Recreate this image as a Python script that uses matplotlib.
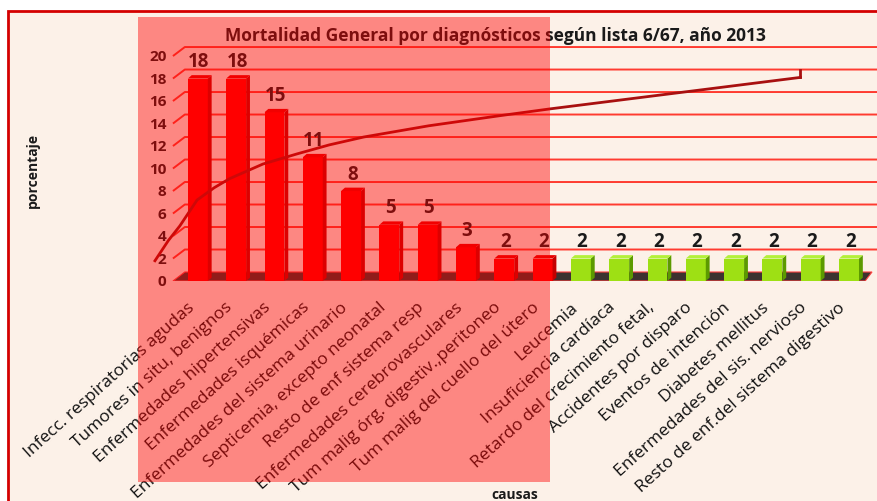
import numpy as np
import matplotlib.pyplot as plt
from matplotlib.patches import Polygon, Rectangle

plt.rcParams['font.family'] = ['Open Sans', 'DejaVu Sans']

# Causas de muerte y porcentaje de cada una
causas = [
    "Infecc. respiratorias agudas",
    "Tumores in situ, benignos",
    "Enfermedades hipertensivas",
    "Enfermedades isquémicas",
    "Enfermedades del sistema urinario",
    "Septicemia, excepto neonatal",
    "Resto de enf sistema resp",
    "Enfermedades cerebrovasculares",
    "Tum malig órg. digestiv.,peritoneo",
    "Tum malig del cuello del útero",
    "Leucemia",
    "Insuficiencia cardíaca",
    "Retardo del crecimiento fetal,",
    "Accidentes por disparo",
    "Eventos de intención",
    "Diabetes mellitus",
    "Enfermedades del sis. nervioso",
    "Resto de enf.del sistema digestivo",
]
porcentaje = [18, 18, 15, 11, 8, 5, 5, 3, 2, 2, 2, 2, 2, 2, 2, 2, 2, 2]
n_rojas = 10  # las primeras causas van en rojo, el resto en verde

# Linea de tendencia (posicion en el eje de causas, valor)
tendencia_x = [-1.15, -0.8, -0.5, -0.05, 0.4, 0.8, 1.67, 2.56, 3.4, 4.3, 6.0, 7.86, 9.16, 15.7]
tendencia_y = [1.8, 3.6, 4.9, 7.2, 8.3, 9.1, 10.4, 11.3, 12.1, 12.8, 13.8, 14.7, 15.3, 18.1]
ticks_y = list(range(0, 21, 2))

fondo = '#fcf1e8'
W, H = 877, 502
fig = plt.figure(figsize=(W / 100, H / 100), dpi=100)
fig.patch.set_facecolor('white')

# marco del grafico
fig.add_artist(Rectangle((8 / W, -0.05), 1.1, (H - 12) / H + 0.05, transform=fig.transFigure,
                         facecolor=fondo, edgecolor='#d40000', lw=2, zorder=0))

ax = fig.add_axes([172 / W, (H - 282) / H, 705 / W, 264 / H])
ax.set_xlim(-0.705, 17.70)
ax.set_ylim(0, 23.47)
ax.axis('off')

# profundidad del efecto 3D
dx_fondo, dy_fondo = 0.31, 0.8
x0 = -0.68

# lineas de cuadricula en la pared de fondo
for v in ticks_y:
    if v > 0:
        ax.plot([x0, x0 + dx_fondo, 17.70], [v, v + dy_fondo, v + dy_fondo],
                color='#ff3b30', lw=1.4, zorder=1, clip_on=False, solid_capstyle='butt')
    ax.text(-0.85, v, str(v), ha='right', va='center', fontsize=11,
            fontweight='bold', color='#1a1a1a', clip_on=False)

# piso
ax.add_patch(Polygon([(x0, 0), (17.39, 0), (17.57, dy_fondo), (x0 + dx_fondo, dy_fondo)],
                     closed=True, facecolor='#3c3230', edgecolor='#ff4040', lw=0.8, zorder=2))

# barras con cara lateral y superior
ancho, lado, alto = 0.52, 0.10, 0.3
for i, v in enumerate(porcentaje):
    if i < n_rojas:
        frente, costado, tapa = '#ff0000', '#c40000', '#e80000'
    else:
        frente, costado, tapa = '#9ee014', '#5c9a00', '#b4f03a'
    xl = i - 0.29
    xr = xl + ancho
    ax.add_patch(Rectangle((xl, 0), ancho, v, facecolor=frente, edgecolor='none', zorder=4))
    ax.add_patch(Polygon([(xr, 0), (xr + lado, alto), (xr + lado, v + alto), (xr, v)],
                         closed=True, facecolor=costado, edgecolor='none', zorder=4))
    ax.add_patch(Polygon([(xl, v), (xr, v), (xr + lado, v + alto), (xl + lado, v + alto)],
                         closed=True, facecolor=tapa, edgecolor='none', zorder=4))
    ax.text(i, v + 0.65, str(v), ha='center', va='bottom', fontsize=13.5,
            fontweight='bold', color='#1a1a1a', zorder=5)

# tendencia
ax.plot(tendencia_x, tendencia_y, color='#a81010', lw=2, zorder=6, clip_on=False)
ax.plot([tendencia_x[-1]] * 2, [tendencia_y[-1], tendencia_y[-1] + 0.7],
        color='#a81010', lw=2, zorder=6)

# etiquetas de categorias
for i, c in enumerate(causas):
    ax.text(i - 0.18, -2.1, c, rotation=42, rotation_mode='anchor', ha='right', va='center',
            fontsize=12.5, color='#111111', clip_on=False)

fig.text(495 / W, 1 - 36 / H, "Mortalidad General por diagnósticos según lista 6/67, año 2013",
         ha='center', va='center', fontsize=12.5, fontweight='bold', color='#1a1a1a')
fig.text(33 / W, 1 - 170 / H, "porcentaje", rotation=90, ha='center', va='center',
         fontsize=10, fontweight='bold', color='#1a1a1a')
fig.text(515 / W, 1 - 495 / H, "causas", ha='center', va='center',
         fontsize=10, fontweight='bold', color='#1a1a1a')

# sombreado rojo translucido encima de las primeras causas
fig.add_artist(Rectangle((138 / W, (H - 483) / H), 412 / W, 465 / H, transform=fig.transFigure,
                         facecolor='#ff0000', edgecolor='none', alpha=0.44, zorder=10))

fig.savefig('out.png', dpi=100, facecolor=fig.get_facecolor())
